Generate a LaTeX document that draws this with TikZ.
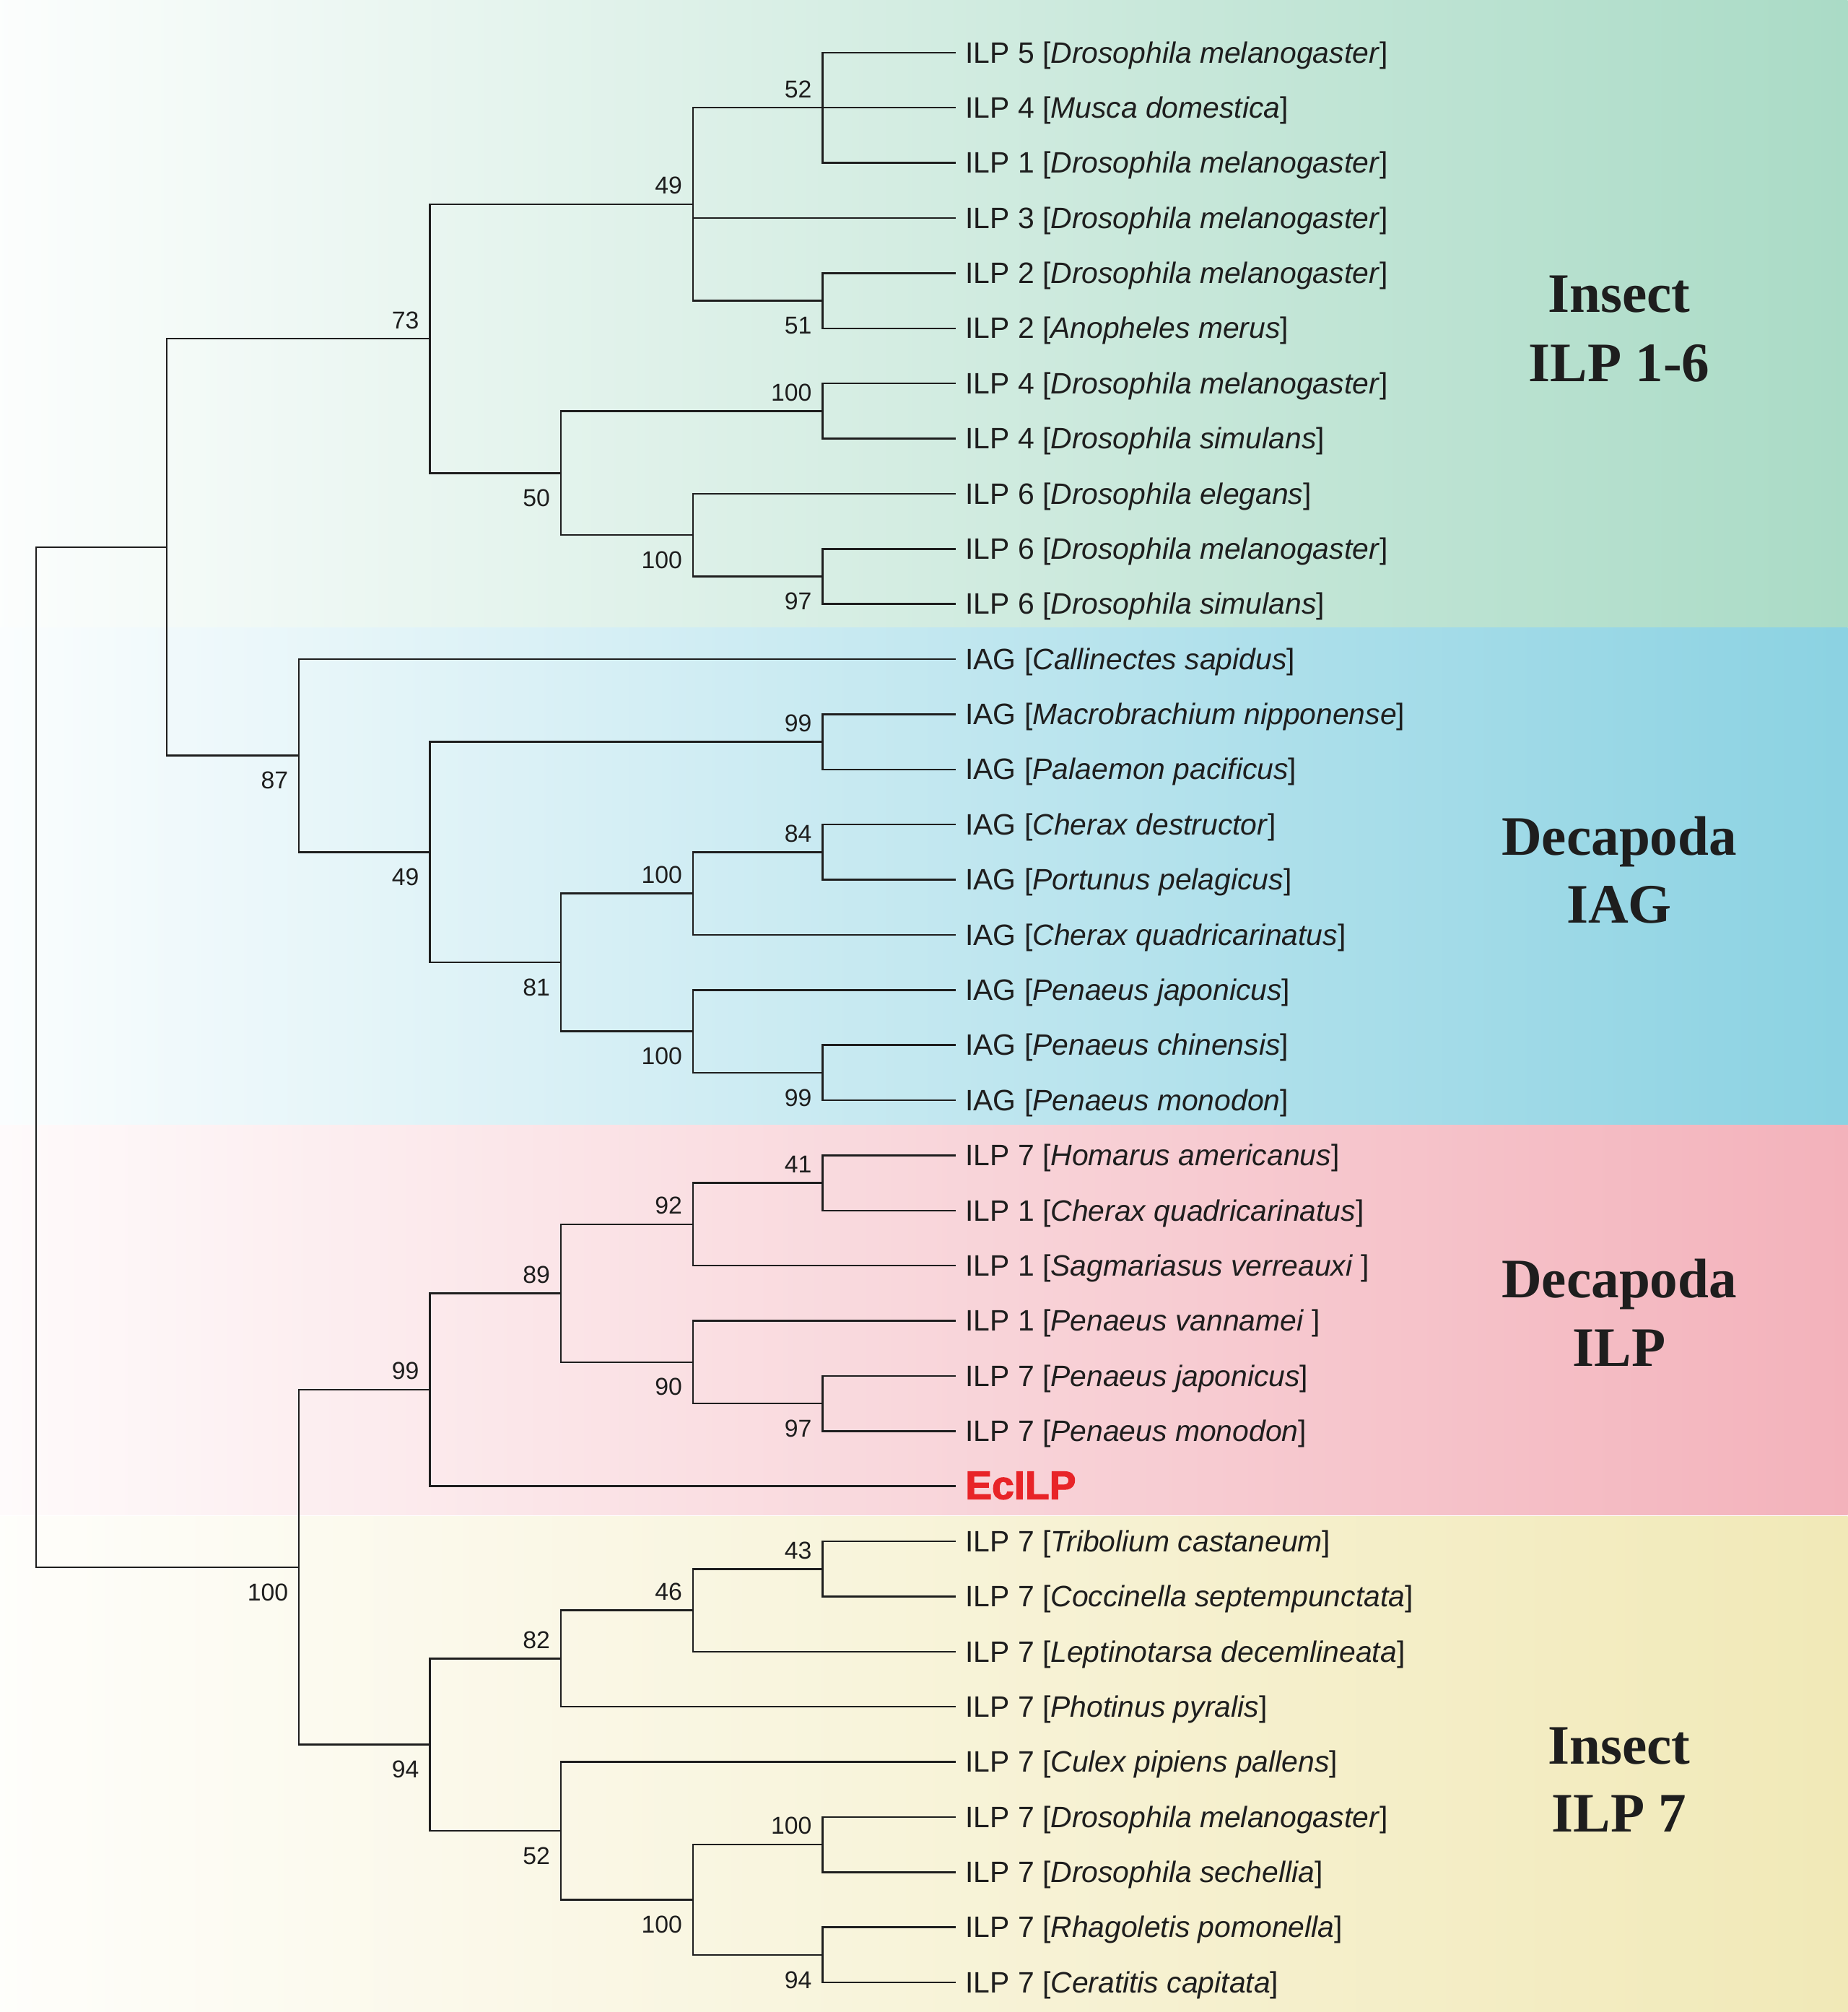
\documentclass[tikz,border=0pt]{standalone}
\usepackage{fontspec}
\setmainfont{Liberation Sans}
\newfontfamily\cladefont{Liberation Serif}
\newfontfamily\ecfont{Liberation Sans}[BoldFeatures={FakeBold=2.2}]
\usetikzlibrary{calc}
\definecolor{gR}{RGB}{170,219,198}
\definecolor{bR}{RGB}{139,210,226}
\definecolor{pR}{RGB}{243,178,187}
\definecolor{yR}{RGB}{241,233,183}
\definecolor{ecred}{RGB}{232,36,40}
\definecolor{ink}{RGB}{30,30,30}
\newcommand{\spn}[1]{\textit{#1}}
\begin{document}
\begin{tikzpicture}[x=0.5pt,y=-0.5pt,
  branch/.style={draw=ink,line width=0.7pt},
  leaflab/.style={anchor=base west,inner sep=0pt,text=ink,font=\fontsize{11.5}{13}\selectfont},
  bsl/.style={anchor=base east,inner sep=0pt,text=ink,font=\fontsize{9.5}{11}\selectfont},
  cladelab/.style={anchor=base,inner sep=0pt,text=ink,font=\cladefont\bfseries\fontsize{21.7}{26}\selectfont}]
\useasboundingbox (0,0) rectangle (1440,1568);
% background bands
\shade[left color=gR!4!white,right color=gR] (0,0) rectangle (1440,489);
\shade[left color=bR!4!white,right color=bR] (0,489) rectangle (1440,877);
\shade[left color=pR!6!white,right color=pR] (0,877) rectangle (1440,1180.5);
\shade[left color=yR!6!white,right color=yR] (0,1182) rectangle (1440,1568);
% leaf tips
\foreach \i/\yy in {1/41,2/83.97,3/126.94,4/169.91,5/212.88,6/255.85,7/298.82,8/341.79,9/384.76,10/427.73,11/470.70,12/513.67,13/556.64,14/599.61,15/642.58,16/685.55,17/728.52,18/771.49,19/814.46,20/857.43,21/900.40,22/943.37,23/986.34,24/1029.31,25/1072.28,26/1115.25,27/1158.22,28/1201.19,29/1244.16,30/1287.13,31/1330.10,32/1373.07,33/1416.04,34/1459.01,35/1501.98,36/1544.95}
  {\coordinate (t\i) at (745,\yy);}
% internal nodes
\coordinate (R) at (28,823.9);
\coordinate (N1) at (130,426.4);
\coordinate (N73) at (335,264.0);
\coordinate (N49a) at (540,159.2);
\coordinate (N52) at (641,83.97);
\coordinate (N51) at (641,234.4);
\coordinate (N50a) at (437,368.7);
\coordinate (N100a) at (641,320.3);
\coordinate (N100b) at (540,417.0);
\coordinate (N97a) at (641,449.2);
\coordinate (N87) at (233,588.9);
\coordinate (N49b) at (335,664.1);
\coordinate (N99a) at (641,578.1);
\coordinate (N81) at (437,750.0);
\coordinate (N100c) at (540,696.3);
\coordinate (N84) at (641,664.1);
\coordinate (N100d) at (540,803.7);
\coordinate (N99b) at (641,836.0);
\coordinate (N100e) at (233,1221.3);
\coordinate (N99c) at (335,1083.0);
\coordinate (N89) at (437,1007.8);
\coordinate (N92) at (540,954.1);
\coordinate (N41) at (641,921.9);
\coordinate (N90) at (540,1061.5);
\coordinate (N97b) at (641,1093.8);
\coordinate (N94a) at (335,1359.6);
\coordinate (N82) at (437,1292.5);
\coordinate (N46) at (540,1254.9);
\coordinate (N43) at (641,1222.7);
\coordinate (N52b) at (437,1426.8);
\coordinate (N100f) at (540,1480.5);
\coordinate (N100g) at (641,1437.5);
\coordinate (N94b) at (641,1523.5);
% branches
\foreach \p/\c in {R/N1,R/N100e,
  N1/N73,N1/N87,
  N73/N49a,N73/N50a,
  N49a/N52,N49a/t4,N49a/N51,
  N52/t1,N52/t2,N52/t3,
  N51/t5,N51/t6,
  N50a/N100a,N50a/N100b,
  N100a/t7,N100a/t8,
  N100b/t9,N100b/N97a,
  N97a/t10,N97a/t11,
  N87/t12,N87/N49b,
  N49b/N99a,N49b/N81,
  N99a/t13,N99a/t14,
  N81/N100c,N81/N100d,
  N100c/N84,N100c/t17,
  N84/t15,N84/t16,
  N100d/t18,N100d/N99b,
  N99b/t19,N99b/t20,
  N100e/N99c,N100e/N94a,
  N99c/N89,N99c/t27,
  N89/N92,N89/N90,
  N92/N41,N92/t23,
  N41/t21,N41/t22,
  N90/t24,N90/N97b,
  N97b/t25,N97b/t26,
  N94a/N82,N94a/N52b,
  N82/N46,N82/t31,
  N46/N43,N46/t30,
  N43/t28,N43/t29,
  N52b/t32,N52b/N100f,
  N100f/N100g,N100f/N94b,
  N100g/t33,N100g/t34,
  N94b/t35,N94b/t36}
  {\draw[branch] (\p) |- (\c);}
% bootstrap values: above (top child) / below (bottom child)
\foreach \n/\v in {N52/52,N49a/49,N73/73,N100a/100,N99a/99,N84/84,N100c/100,N41/41,N92/92,N89/89,N99c/99,N43/43,N46/46,N82/82,N100g/100}
  {\node[bsl] (b\n) at ($(\n)+(-8,-8)$) {\v};}
\foreach \n/\v in {N51/51,N50a/50,N100b/100,N97a/97,N87/87,N49b/49,N81/81,N100d/100,N99b/99,N90/90,N97b/97,N100e/100,N94a/94,N52b/52,N100f/100,N94b/94}
  {\node[bsl] (b\n) at ($(\n)+(-8,26)$) {\v};}
% leaf labels
\foreach \i/\txt in {
  1/{ILP 5 [\spn{Drosophila melanogaster}]},
  2/{ILP 4 [\spn{Musca domestica}]},
  3/{ILP 1 [\spn{Drosophila melanogaster}]},
  4/{ILP 3 [\spn{Drosophila melanogaster}]},
  5/{ILP 2 [\spn{Drosophila melanogaster}]},
  6/{ILP 2 [\spn{Anopheles merus}]},
  7/{ILP 4 [\spn{Drosophila melanogaster}]},
  8/{ILP 4 [\spn{Drosophila simulans}]},
  9/{ILP 6 [\spn{Drosophila elegans}]},
  10/{ILP 6 [\spn{Drosophila melanogaster}]},
  11/{ILP 6 [\spn{Drosophila simulans}]},
  12/{IAG [\spn{Callinectes sapidus}]},
  13/{IAG [\spn{Macrobrachium nipponense}]},
  14/{IAG [\spn{Palaemon pacificus}]},
  15/{IAG [\spn{Cherax destructor}]},
  16/{IAG [\spn{Portunus pelagicus}]},
  17/{IAG [\spn{Cherax quadricarinatus}]},
  18/{IAG [\spn{Penaeus japonicus}]},
  19/{IAG [\spn{Penaeus chinensis}]},
  20/{IAG [\spn{Penaeus monodon}]},
  21/{ILP 7 [\spn{Homarus americanus}]},
  22/{ILP 1 [\spn{Cherax quadricarinatus}]},
  23/{ILP 1 [\spn{Sagmariasus verreauxi} ]},
  24/{ILP 1 [\spn{Penaeus vannamei} ]},
  25/{ILP 7 [\spn{Penaeus japonicus}]},
  26/{ILP 7 [\spn{Penaeus monodon}]},
  28/{ILP 7 [\spn{Tribolium castaneum}]},
  29/{ILP 7 [\spn{Coccinella septempunctata}]},
  30/{ILP 7 [\spn{Leptinotarsa decemlineata}]},
  31/{ILP 7 [\spn{Photinus pyralis}]},
  32/{ILP 7 [\spn{Culex pipiens pallens}]},
  33/{ILP 7 [\spn{Drosophila melanogaster}]},
  34/{ILP 7 [\spn{Drosophila sechellia}]},
  35/{ILP 7 [\spn{Rhagoletis pomonella}]},
  36/{ILP 7 [\spn{Ceratitis capitata}]}}
  {\node[leaflab] (L\i) at ($(t\i)+(7,8)$) {\txt};}
\node[anchor=base west,inner sep=0pt,text=ecred,font=\ecfont\bfseries\fontsize{15.5}{17}\selectfont] (L27) at ($(t27)+(7,10)$) {EcILP};
% clade labels
\node[cladelab] (c1a) at (1262,243.5) {Insect};
\node[cladelab] (c1b) at (1262,297.5) {ILP 1-6};
\node[cladelab] (c2a) at (1262,666.5) {Decapoda};
\node[cladelab] (c2b) at (1262,719.5) {IAG};
\node[cladelab] (c3a) at (1262,1011.5) {Decapoda};
\node[cladelab] (c3b) at (1262,1064.5) {ILP};
\node[cladelab] (c4a) at (1262,1374.5) {Insect};
\node[cladelab] (c4b) at (1262,1427.5) {ILP 7};
\end{tikzpicture}
\end{document}
